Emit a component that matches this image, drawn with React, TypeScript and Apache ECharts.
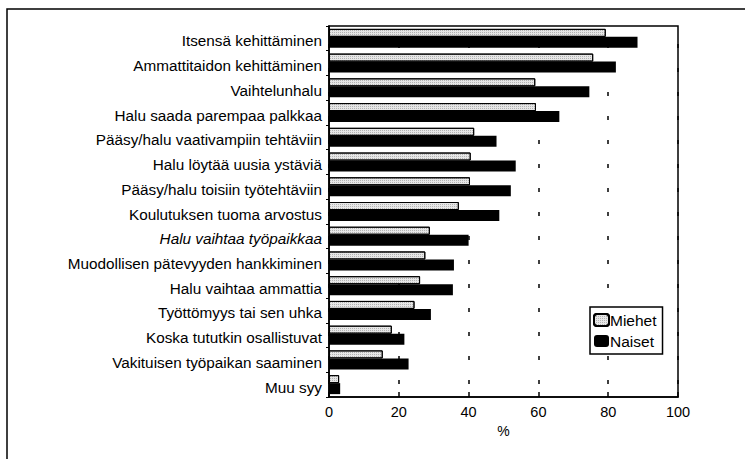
import React, { useEffect, useRef } from "react";
import * as echarts from "echarts";

const categories = [
  "Itsensä kehittäminen",
  "Ammattitaidon kehittäminen",
  "Vaihtelunhalu",
  "Halu saada parempaa palkkaa",
  "Pääsy/halu vaativampiin tehtäviin",
  "Halu löytää uusia ystäviä",
  "Pääsy/halu toisiin työtehtäviin",
  "Koulutuksen tuoma arvostus",
  "Halu vaihtaa työpaikkaa",
  "Muodollisen pätevyyden hankkiminen",
  "Halu vaihtaa ammattia",
  "Työttömyys tai sen uhka",
  "Koska tututkin osallistuvat",
  "Vakituisen työpaikan saaminen",
  "Muu syy",
];
const miehet = [79.3, 75.7, 59.1, 59.3, 41.6, 40.6, 40.4, 37.2, 28.9, 27.6, 26.1, 24.5, 18.0, 15.4, 2.9];
const naiset = [88.4, 82.2, 74.6, 66.0, 48.0, 53.5, 52.1, 48.8, 40.0, 35.8, 35.5, 29.2, 21.6, 22.8, 3.2];
const italicCategory = "Halu vaihtaa työpaikkaa";
const seriesNames = ["Miehet", "Naiset"];
const xTicks = [0, 20, 40, 60, 80, 100];

const FONT = "Liberation Sans, Arial, sans-serif";

export default function App() {
  const ref = useRef<HTMLDivElement>(null);
  useEffect(() => {
    document.body.style.margin = "0";
    const chart = echarts.init(ref.current!, null, { renderer: "svg" });
    chart.setOption({
      animation: false,
      backgroundColor: "#fff",
      textStyle: { fontFamily: FONT, color: "#000" },
      graphic: [
        {
          type: "rect",
          shape: { x: 7, y: 9, width: 760, height: 470 },
          style: { fill: "none", stroke: "#000", lineWidth: 1.5 },
          silent: true,
          z: 100,
        },
      ],
      grid: {
        left: 329,
        right: 67,
        top: 26,
        bottom: 62,
        show: true,
        borderColor: "#000",
        borderWidth: 1.5,
        containLabel: false,
      },
      legend: {
        orient: "vertical",
        left: 590,
        top: 307,
        data: seriesNames,
        itemWidth: 15,
        itemHeight: 12,
        itemGap: 5,
        padding: [5, 6, 5, 3],
        borderColor: "#000",
        borderWidth: 1.5,
        backgroundColor: "#fff",
        textStyle: { fontFamily: FONT, fontSize: 15.5, color: "#000", padding: [0, 0, 0, -4] },
      },
      xAxis: {
        type: "value",
        min: 0,
        max: 100,
        interval: 20,
        name: "%",
        nameLocation: "middle",
        nameGap: 27,
        nameTextStyle: { fontFamily: FONT, fontSize: 14, color: "#000" },
        axisLine: { show: true, lineStyle: { color: "#000", width: 1.5 } },
        axisTick: { show: true, inside: true, length: 5, lineStyle: { color: "#000", width: 1.5 } },
        axisLabel: {
          fontFamily: FONT,
          fontSize: 14.5,
          color: "#000",
          margin: 7,
          formatter: (v: number) => (xTicks.includes(v) ? String(v) : ""),
        },
        splitLine: {
          show: true,
          lineStyle: { color: "#000", width: 1.5, type: [4, 20], dashOffset: 6 },
        },
      },
      yAxis: {
        type: "category",
        data: categories,
        inverse: true,
        axisLine: { show: true, lineStyle: { color: "#000", width: 1.5 } },
        axisTick: { show: true, length: 3, lineStyle: { color: "#000" } },
        axisLabel: {
          fontFamily: FONT,
          fontSize: 15.3,
          color: "#000",
          margin: 7,
          padding: [5, 0, 0, 0],
          formatter: (v: string) => (v === italicCategory ? "{it|" + v + "}" : v),
          rich: { it: { fontStyle: "italic", fontFamily: FONT, fontSize: 15.3, color: "#000" } },
        },
      },
      series: [
        {
          name: seriesNames[0],
          type: "bar",
          data: miehet,
          barWidth: 8,
          barGap: "0%",
          itemStyle: {
            color: "#e6e6e6",
            borderColor: "#000",
            borderWidth: 1,
            decal: {
              symbol: "rect",
              symbolSize: 1,
              color: "rgba(0,0,0,0.22)",
              dashArrayX: [1, 1],
              dashArrayY: [1, 1],
              rotation: 0,
            },
          },
        },
        {
          name: seriesNames[1],
          type: "bar",
          data: naiset,
          barWidth: 11,
          barGap: "0%",
          itemStyle: { color: "#000", borderColor: "#000", borderWidth: 0 },
        },
      ],
    });
    return () => chart.dispose();
  }, []);
  return <div ref={ref} style={{ width: 745, height: 459 }} />;
}
